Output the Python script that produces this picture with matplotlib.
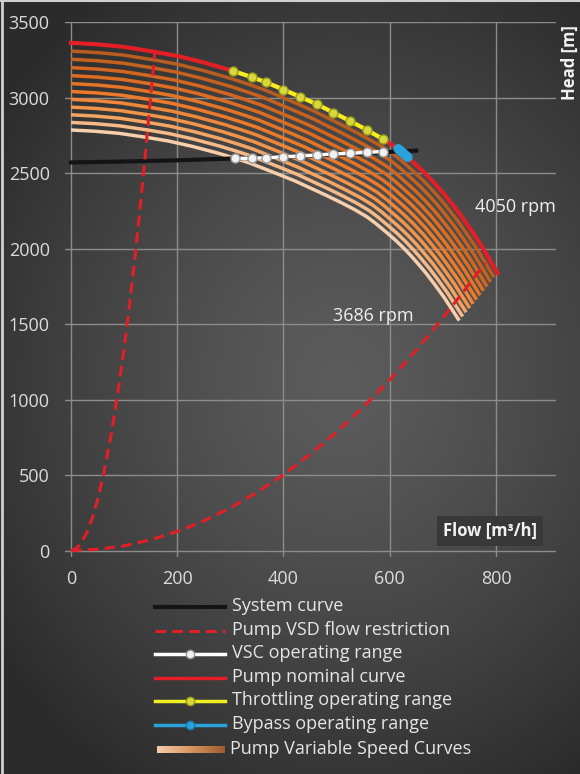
"""
Pump curves: nominal, variable speed, system curve and operating ranges
"""

import numpy as np
import matplotlib.pyplot as plt
from matplotlib.colors import LinearSegmentedColormap

plt.rcParams['font.family'] = ['Open Sans', 'DejaVu Sans']

# pump nominal curve, 4050 rpm
nominal_rpm = 4050
nominal_flow = [0, 50, 100, 158, 200, 250, 305, 340, 368, 400, 431, 463, 494,
                525, 557, 587, 612, 630, 653, 668, 685, 702, 718, 735, 752, 772, 803]
nominal_head = [3362, 3352, 3335, 3302, 3275, 3232, 3176, 3135, 3100, 3052, 3005,
                2955, 2900, 2845, 2785, 2725, 2668, 2616, 2542, 2492, 2430, 2362,
                2292, 2214, 2128, 2022, 1838]

# variable speed curves (rpm), lowest 3686
speed_rpm = [3686, 3719, 3752, 3785, 3818, 3851, 3884, 3917, 3950, 3984, 4017]

# system curve
system_flow = [0, 100, 200, 305, 400, 500, 600, 650]
system_head = [2570, 2576, 2584, 2596, 2608, 2622, 2640, 2648]

# VSD flow restriction (min / max)
vsd_min_flow = [0, 10, 20, 30, 40, 50, 61, 75, 88, 100, 107, 115, 122, 130, 138,
                148, 158]
vsd_min_head = [0, 13, 54, 121, 214, 335, 500, 754, 1038, 1340, 1534, 1772, 1995,
                2265, 2552, 2935, 3302]
vsd_max_flow = [0, 50, 100, 150, 200, 250, 300, 350, 400, 450, 500, 550, 600, 650,
                700, 740, 780]
vsd_max_head = [0, 8, 31, 71, 126, 196, 283, 385, 502, 636, 785, 950, 1130, 1327,
                1540, 1720, 1905]

# operating ranges
vsc_flow = [308, 340, 368, 400, 431, 463, 494, 525, 557, 587]
vsc_head = [2597, 2598, 2601, 2608, 2613, 2619, 2626, 2630, 2637, 2642]
throttle_flow = [305, 340, 368, 400, 431, 463, 494, 525, 557, 587]
throttle_head = [3176, 3135, 3100, 3052, 3005, 2955, 2900, 2845, 2785, 2725]
bypass_flow = [616, 634]
bypass_head = [2660, 2605]

W, H = 580, 774
fig = plt.figure(figsize=(W / 100, H / 100), dpi=100)

# dark radial background
bg = fig.add_axes([0, 0, 1, 1])
yy, xx = np.mgrid[0:H, 0:W]
r = np.hypot((xx - 340) / 420.0, (yy - 380) / 470.0)
val = 0.36 - 0.19 * np.clip(r, 0, 1) ** 1.3
bg.imshow(np.dstack([val, val, val]), aspect='auto', extent=(0, W, H, 0))
bg.set_xlim(0, W)
bg.set_ylim(H, 0)
bg.axis('off')
bg.plot([0, W], [0.8, 0.8], color='#d0d0d0', lw=1.5)
bg.plot([1.5, 1.5], [0, H], color='#d0d0d0', lw=2)

ax = fig.add_axes([65 / W, 1 - 557 / H, (556 - 65) / W, (557 - 22) / H])
ax.set_facecolor('none')
ax.set_xlim(-11.3, 913)
ax.set_ylim(-43, 3500)
ax.set_xticks([0, 200, 400, 600, 800])
ax.set_yticks(range(0, 3501, 500))
ax.grid(True, color='#8c8c8c', lw=1.0)
ax.set_axisbelow(True)
for s in ax.spines.values():
    s.set_visible(False)
ax.tick_params(length=0, colors='#dcdcdc', labelsize=13)
ax.tick_params(axis='y', pad=11)
ax.tick_params(axis='x', pad=9)

# variable speed curves (affinity laws)
cmap = LinearSegmentedColormap.from_list(
    'vs', ['#f8cfac', '#f39a52', '#ec7a2a', '#d96a20', '#b95c1f'])
q0 = np.array(nominal_flow)
h0 = np.array(nominal_head)
for i, rpm in enumerate(speed_rpm):
    k = rpm / nominal_rpm
    ax.plot(q0 * k, h0 * k ** 2, color=cmap(i / (len(speed_rpm) - 1)),
            lw=2.5, solid_capstyle='butt', solid_joinstyle='round', zorder=2)

ax.plot(system_flow, system_head, color='#141414', lw=3, zorder=3)
ax.plot(nominal_flow, nominal_head, color='#e21f26', lw=3, zorder=4,
        solid_joinstyle='round')
ax.plot(vsd_min_flow, vsd_min_head, color='#e21f26', lw=2.2, dashes=(3.5, 2), zorder=5)
ax.plot(vsd_max_flow, vsd_max_head, color='#e21f26', lw=2.2, dashes=(3.5, 2), zorder=5)
ax.plot(vsc_flow, vsc_head, color='white', lw=2.5, marker='o', ms=6.5,
        mfc='#f2f2f2', mec='#9a9a9a', mew=1, zorder=6)
ax.plot(throttle_flow, throttle_head, color='#f0f020', lw=3, marker='o', ms=6.5,
        mfc='#d8d83a', mec='#9a9a20', mew=1, zorder=6)
ax.plot(bypass_flow, bypass_head, color='#2aa3dc', lw=7,
        solid_capstyle='round', zorder=7)

ax.text(761, 2275, '4050 rpm', color='#f0f0f0', fontsize=13, va='center')
ax.text(493, 1553, '3686 rpm', color='#f0f0f0', fontsize=13, va='center')
ax.text(789, 129, 'Flow [m³/h]', color='#f2f2f2', fontsize=12, fontweight='bold',
        ha='center', va='center',
        bbox=dict(boxstyle='square,pad=0.35', fc='#383838', ec='none'))
fig.text(570 / W, 1 - 63 / H, 'Head [m]', color='#f2f2f2', fontsize=12,
         fontweight='bold', rotation=90, ha='center', va='center')

# legend, drawn by hand in pixel space
lg = fig.add_axes([0, 0, 1, 1])
lg.set_facecolor('none')
lg.set_xlim(0, W)
lg.set_ylim(H, 0)
lg.axis('off')
rows = [607, 631, 654, 678, 701, 725, 750]
labels = ['System curve', 'Pump VSD flow restriction', 'VSC operating range',
          'Pump nominal curve', 'Throttling operating range',
          'Bypass operating range', 'Pump Variable Speed Curves']
x0, x1 = 155, 225
lg.plot([x0, x1], [rows[0]] * 2, color='#141414', lw=3)
lg.plot([x0, x1], [rows[1]] * 2, color='#e21f26', lw=2.2, dashes=(3.5, 2))
lg.plot([x0, x1], [rows[2]] * 2, color='white', lw=2.5)
lg.plot([190], [rows[2]], 'o', ms=6, mfc='#f2f2f2', mec='#9a9a9a')
lg.plot([x0, x1], [rows[3]] * 2, color='#e21f26', lw=2.5)
lg.plot([x0, x1], [rows[4]] * 2, color='#f0f020', lw=2.5)
lg.plot([190], [rows[4]], 'o', ms=6, mfc='#d8d83a', mec='#9a9a20')
lg.plot([x0, x1], [rows[5]] * 2, color='#2aa3dc', lw=2.5)
lg.plot([190], [rows[5]], 'o', ms=6, mfc='#2aa3dc', mec='#1a7aa8')
grad = LinearSegmentedColormap.from_list('leg', ['#f6cbaa', '#d9955f', '#a05a30'])
lg.imshow(np.linspace(0, 1, 100)[None, :], cmap=grad, aspect='auto',
          extent=(x0 + 2, x1, rows[6] + 3.5, rows[6] - 3.5))
lg.set_xlim(0, W)
lg.set_ylim(H, 0)
for yrow, lab in zip(rows, labels):
    dx = 230 if lab.startswith('Pump Var') else 232
    lg.text(dx, yrow - 1, lab, color='#e6e6e6', fontsize=13, va='center')

fig.savefig('out.png', dpi=100)
